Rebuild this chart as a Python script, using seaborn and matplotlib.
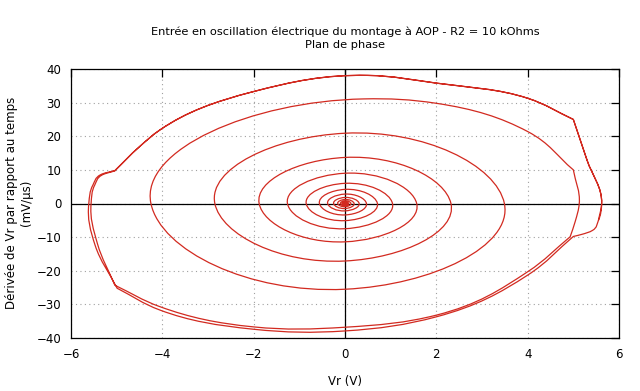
import numpy as np
import matplotlib
matplotlib.use("Agg")
import matplotlib.pyplot as plt
from matplotlib.path import Path
from matplotlib.patches import PathPatch
import seaborn as sns

# Inner spiral, read at the axis crossings (clockwise: right -> bottom -> left -> top)
right_x = [0.02, 0.03, 0.05, 0.08, 0.13, 0.20, 0.31, 0.47, 0.71, 1.04, 1.57, 2.32, 3.49]
bottom_y = [-0.15, -0.25, -0.4, -0.65, -0.95, -1.5, -2.2, -3.4, -5.1, -7.5, -11.4, -17.1, -25.5]
left_x = [-0.025, -0.04, -0.065, -0.1, -0.16, -0.25, -0.38, -0.56, -0.85, -1.26, -1.88, -2.85, -4.25]
top_y = [0.2, 0.3, 0.5, 0.8, 1.2, 1.8, 2.8, 4.2, 6.0, 9.0, 13.7, 20.9]

# Saturated outer turns
outer_x = [0.4, 2.0, 4.0, 5.0, 5.13, 5.04, 4.93, 4.0, 2.0, 0.0, -2.0, -4.05, -5.04,
           -5.42, -5.56, -5.48, -5.33, -5.04, -4.5, -4.05, -2.0, 0.5, 2.0, 4.0, 5.0, 5.3,
           5.62, 5.55, 5.42, 5.18, 5.0, 4.0, 2.0, 0.0, -2.0, -4.05, -4.99, -5.47,
           -5.61, -5.52, -5.36, -5.04, -4.5, -4.05, -2.0, 0.5, 2.0, 4.0, 5.0, 5.3, 5.62, 5.55]
outer_y = [31.1, 29.8, 21.4, 10.0, 0.0, -5.4, -9.9, -20.3, -33.2, -36.8, -36.7, -30.7, -24.3,
           -12.0, 0.0, 5.5, 8.4, 9.7, 16.9, 21.9, 33.3, 38.1, 35.8, 31.3, 25.0, 12.9,
           0.0, -5.0, -8.0, -9.2, -9.8, -21.3, -33.7, -37.9, -37.4, -31.7, -25.2, -12.5,
           0.0, 5.5, 8.5, 9.8, 16.9, 21.9, 33.3, 38.1, 35.8, 31.3, 25.0, 12.9, 0.0, -5.0]
outer_kinks = [3, 6, 12, 17, 24, 30, 36, 41, 48]

title = "Entrée en oscillation électrique du montage à AOP - R2 = 10 kOhms\nPlan de phase"
xlabel = "Vr (V)"
ylabel = "Dérivée de Vr par rapport au temps\n(mV/µs)"

# assemble the trace
xs, ys = [], []
for i in range(len(right_x)):
    xs += [right_x[i], 0.0, left_x[i]]
    ys += [0.0, bottom_y[i], 0.0]
    if i < len(top_y):
        xs.append(0.0)
        ys.append(top_y[i])
start = len(xs)
xs += outer_x
ys += outer_y
kinks = set(start + k for k in outer_kinks)


def smooth_path(xs, ys, kinks, aspect=6.6, k=0.37):
    # cubic Bezier path through the read points (y scaled so loops are round)
    p = np.column_stack([xs, np.asarray(ys, float) / aspect])
    n = len(p)
    t_in = np.zeros_like(p)
    t_out = np.zeros_like(p)
    unit = lambda v: v / (np.linalg.norm(v) or 1.0)
    for i in range(n):
        prev = p[i - 1] if i > 0 else p[i]
        nxt = p[i + 1] if i < n - 1 else p[i]
        d0, d1 = p[i] - prev, nxt - p[i]
        if i in kinks or i == 0 or i == n - 1:
            t_in[i] = unit(d0)
            t_out[i] = unit(d1)
        else:
            h0, h1 = np.linalg.norm(d0), np.linalg.norm(d1)
            t_in[i] = t_out[i] = unit(h1 * unit(d0) + h0 * unit(d1))
    verts = [p[0]]
    codes = [Path.MOVETO]
    for i in range(n - 1):
        L = k * np.linalg.norm(p[i + 1] - p[i])
        verts += [p[i] + t_out[i] * L, p[i + 1] - t_in[i + 1] * L, p[i + 1]]
        codes += [Path.CURVE4] * 3
    verts = np.array(verts)
    verts[:, 1] *= aspect
    return Path(verts, codes)


sns.set_style("white")
plt.rcParams["font.family"] = ["DejaVu Sans"]
plt.rcParams["text.color"] = "black"
plt.rcParams["axes.labelcolor"] = "black"

fig = plt.figure(figsize=(6.4, 3.91), dpi=100)
ax = fig.add_axes([71 / 640, 1 - 338 / 391, 548 / 640, 269 / 391])

ax.set_xlim(-6, 6)
ax.set_ylim(-40, 40)
ax.set_xticks(range(-6, 7, 2))
ax.set_yticks(range(-40, 41, 10))
ax.grid(True, color="#a0a0a0", linestyle=(0, (1, 3)), linewidth=0.8)
ax.axhline(0, color="black", lw=0.9, zorder=1)
ax.axvline(0, color="black", lw=0.9, zorder=1)

ax.add_patch(PathPatch(smooth_path(xs, ys, kinks), facecolor="none",
                       edgecolor="#d22a20", lw=0.9, zorder=3))

for s in ax.spines.values():
    s.set_color("black")
    s.set_linewidth(0.9)
ax.tick_params(direction="in", length=6, width=0.9, top=True, right=True,
               labelsize=8.5, colors="black", pad=7)

ax.set_xlabel(xlabel, fontsize=8.5, labelpad=10)
fig.text(19 / 640, 1 - 203 / 391, ylabel, rotation=90, ha="center", va="center",
         fontsize=8.5, multialignment="center", linespacing=1.25)
fig.text(345 / 640, 1 - 38 / 391, title, ha="center", va="center",
         fontsize=8.2, multialignment="center", linespacing=1.35)

plt.savefig("out.png", dpi=100)
plt.close()
